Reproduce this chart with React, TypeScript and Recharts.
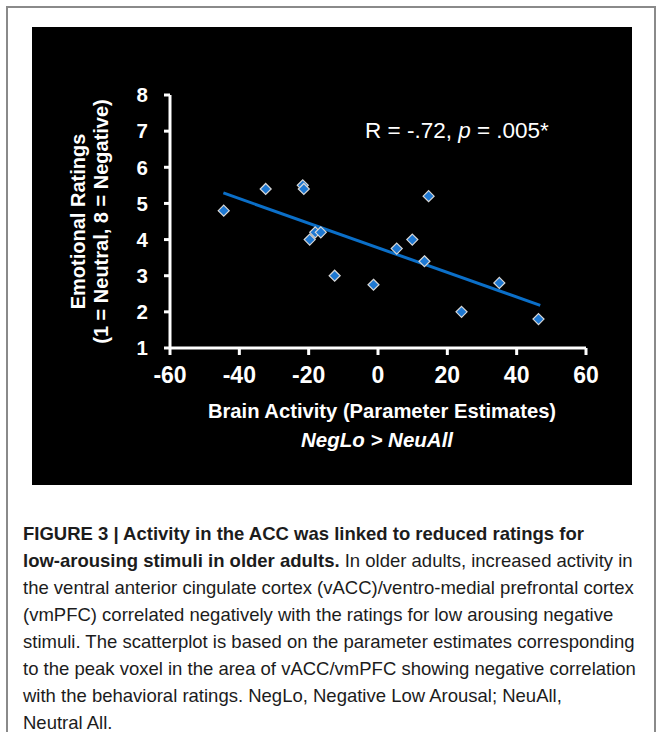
import React from 'react';
import { ScatterChart, Scatter, XAxis, YAxis, Label } from 'recharts';

// Data
const brainActivity = [-44.5, -32.4, -21.7, -21.4, -19.7, -18.1, -16.5, -12.5, -1.3, 5.4, 9.9, 13.4, 14.6, 24.1, 35.0, 46.3];
const emotionalRatings = [4.8, 5.4, 5.5, 5.4, 4.0, 4.2, 4.2, 3.0, 2.75, 3.75, 4.0, 3.4, 5.2, 2.0, 2.8, 1.8];
const fitX = [-44.6, 46.8];
const fitY = [5.29, 2.18];
const xTicks = [-60, -40, -20, 0, 20, 40, 60];
const yTicks = [1, 2, 3, 4, 5, 6, 7, 8];

const points = brainActivity.map((x, i) => ({ x, y: emotionalRatings[i] }));
const fitLine = fitX.map((x, i) => ({ x, y: fitY[i] }));

const FONT = "'Liberation Sans', Arial, Helvetica, sans-serif";

const Diamond = (props: any) => {
  const { cx, cy } = props;
  if (cx == null || cy == null) return <g />;
  const r = 5.5;
  return (
    <polygon
      points={`${cx},${cy - r} ${cx + r},${cy} ${cx},${cy + r} ${cx - r},${cy}`}
      fill="#1e78d2"
      stroke="#d8d8d8"
      strokeWidth={1.2}
    />
  );
};

const NoShape = () => <g />;

const XTitles = (props: any) => {
  const vb = props.viewBox || { x: 138, y: 321, width: 416, height: 30 };
  const cx = vb.x + vb.width / 2;
  return (
    <g fontFamily={FONT} fill="#ffffff">
      <text x={cx + 4} y={vb.y + 70} textAnchor="middle" fontSize={20.2} fontWeight="bold">
        Brain Activity (Parameter Estimates)
      </text>
      <text x={cx - 1} y={vb.y + 99} textAnchor="middle" fontSize={20.5} fontStyle="italic" fontWeight="bold">
        NegLo &gt; NeuAll
      </text>
      <text x={vb.x + 195} y={vb.y - 210} textAnchor="start" fontSize={22.5}>
        R = -.72, <tspan fontStyle="italic">p</tspan> = .005*
      </text>
    </g>
  );
};

const YTitles = (props: any) => {
  const vb = props.viewBox || { x: 78, y: 68, width: 60, height: 253 };
  const cy = vb.y + vb.height / 2;
  const x1 = vb.x - 25;
  const x2 = vb.x - 2;
  return (
    <g fontFamily={FONT} fill="#ffffff" fontWeight="bold" fontSize={20}>
      <text x={x1} y={cy} transform={`rotate(-90, ${x1}, ${cy})`} textAnchor="middle">
        Emotional Ratings
      </text>
      <text x={x2} y={cy} transform={`rotate(-90, ${x2}, ${cy})`} textAnchor="middle">
        (1 = Neutral,  8 = Negative)
      </text>
    </g>
  );
};

const captionLines: React.ReactNode[] = [
  <b key="a">FIGURE 3 | Activity in the ACC was linked to reduced ratings for</b>,
  <span key="b"><b>low-arousing stimuli in older adults.</b> In older adults, increased activity in</span>,
  'the ventral anterior cingulate cortex (vACC)/ventro-medial prefrontal cortex',
  '(vmPFC) correlated negatively with the ratings for low arousing negative',
  'stimuli. The scatterplot is based on the parameter estimates corresponding',
  'to the peak voxel in the area of vACC/vmPFC showing negative correlation',
  'with the behavioral ratings. NegLo, Negative Low Arousal; NeuAll,',
  'Neutral All.',
];

export default function App() {
  return (
    <div style={{ position: 'absolute', left: 0, top: 0, width: 665, height: 732, overflow: 'hidden', background: '#ffffff' }}>
      <div
        style={{
          position: 'absolute',
          left: 6,
          top: 6,
          width: 650,
          height: 740,
          border: '2px solid #8a8a8a',
          boxSizing: 'border-box',
        }}
      />
      <div style={{ position: 'absolute', left: 32, top: 27, width: 600, height: 458, background: '#000000' }}>
        <ScatterChart width={600} height={458} margin={{ top: 68, right: 46, bottom: 107, left: 78 }}>
          <XAxis
            type="number"
            dataKey="x"
            domain={[-60, 60]}
            ticks={xTicks}
            interval={0}
            allowDataOverflow
            height={30}
            tickSize={7}
            tickMargin={12}
            axisLine={{ stroke: '#ffffff', strokeWidth: 3 }}
            tickLine={{ stroke: '#ffffff', strokeWidth: 3 }}
            tick={{ fill: '#ffffff', fontSize: 23, fontWeight: 'bold', fontFamily: FONT }}
            label={<Label content={XTitles} />}
          />
          <YAxis
            type="number"
            dataKey="y"
            domain={[1, 8]}
            ticks={yTicks}
            interval={0}
            allowDataOverflow
            width={60}
            tickSize={6}
            tickMargin={16}
            axisLine={{ stroke: '#ffffff', strokeWidth: 3 }}
            tickLine={{ stroke: '#ffffff', strokeWidth: 3 }}
            tick={{ fill: '#ffffff', fontSize: 20.5, fontWeight: 'bold', fontFamily: FONT }}
            label={<Label content={YTitles} />}
          />
          <Scatter
            data={fitLine}
            line={{ stroke: '#0b6fc8', strokeWidth: 3 }}
            shape={NoShape}
            isAnimationActive={false}
          />
          <Scatter data={points} shape={Diamond} isAnimationActive={false} />
        </ScatterChart>
      </div>
      <div
        style={{
          position: 'absolute',
          left: 23,
          top: 520,
          fontFamily: FONT,
          fontSize: 18.5,
          lineHeight: '27px',
          color: '#1c1c1c',
          whiteSpace: 'nowrap',
        }}
      >
        {captionLines.map((l, i) => (
          <div key={i}>{l}</div>
        ))}
      </div>
    </div>
  );
}
